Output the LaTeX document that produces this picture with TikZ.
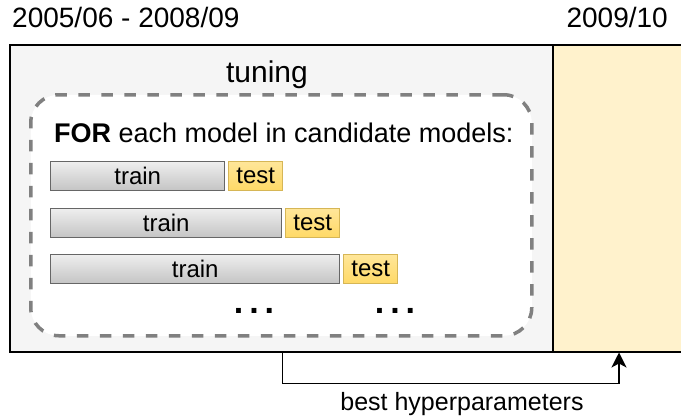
\documentclass[tikz,border=0pt]{standalone}
\usepackage{fontspec}
\setmainfont{Liberation Sans}
\usetikzlibrary{arrows.meta,shadings}
\definecolor{panelgray}{HTML}{F5F5F5}
\definecolor{evalyellow}{HTML}{FFF2CC}
\definecolor{loopgray}{HTML}{808080}
\definecolor{trainedge}{HTML}{666666}
\definecolor{traintop}{HTML}{EEEEEE}
\definecolor{trainbot}{HTML}{C4C4C4}
\definecolor{testtop}{HTML}{FFE699}
\definecolor{testbot}{HTML}{FFD966}
\definecolor{testedge}{HTML}{D6B656}
\tikzset{
  fsz/.style={font=\fontsize{#1}{#1}\selectfont},
  period/.style={draw=black, line width=1.5pt, inner sep=0pt, anchor=north west},
  loopbox/.style={draw=loopgray, fill=white, line width=3.5pt, dash pattern=on 11.5pt off 11.5pt,
    rounded corners=28pt, inner sep=0pt, anchor=north west},
  trainbox/.style={draw=trainedge, line width=1.4pt, top color=traintop, bottom color=trainbot,
    minimum height=29pt, inner sep=0pt, anchor=north west, fsz=24},
  testbox/.style={draw=testedge, line width=1.4pt, top color=testtop, bottom color=testbot,
    minimum height=29pt, minimum width=54pt, inner sep=0pt, anchor=north west, fsz=24},
  label/.style={anchor=base, inner sep=0pt},
  flow/.style={draw=black, line width=1.4pt, -{Stealth[length=15pt,width=15pt,inset=4pt]}}
}
\begin{document}
\begin{tikzpicture}[x=1pt,y=-1pt]
  \useasboundingbox (0,0) rectangle (681,418);

  % period labels
  \node[label, anchor=base west, fsz=28] (p1) at (12,27) {2005/06 - 2008/09};
  \node[label, anchor=base east, fsz=28] (p2) at (668,27) {2009/10};

  % tuning period and evaluation period
  \node[period, fill=evalyellow, minimum width=140pt, minimum height=307pt] (eval) at (552,44) {};
  \node[period, fill=panelgray, minimum width=543pt, minimum height=307pt] (tuning) at (9,44) {};
  \node[label, fsz=30] (tlabel) at (267,82) {tuning};

  % loop over candidate models
  \node[loopbox, minimum width=501pt, minimum height=241pt] (loop) at (29,93) {};
  \node[label, anchor=base west, fsz=27] (for) at (54,142) {\textbf{FOR} each model in candidate models:};

  \node[trainbox, minimum width=174pt] (tr1) at (50,161) {train};
  \node[testbox] (te1) at (228,161) {test};
  \node[trainbox, minimum width=231pt] (tr2) at (50,208) {train};
  \node[testbox] (te2) at (285,208) {test};
  \node[trainbox, minimum width=289pt] (tr3) at (50,254) {train};
  \node[testbox] (te3) at (343,254) {test};

  \node[label, fsz=34] (d1) at (254,313) {\textbf{.\kern6pt.\kern6pt.}};
  \node[label, fsz=34] (d2) at (395,313) {\textbf{.\kern6pt.\kern6pt.}};

  % hand-over of the best hyperparameters
  \coordinate (target) at ([xshift=67pt]eval.south west);
  \draw[flow] (tr2.east |- tuning.south) -- ++(0,31) -| (target);
  \node[label, fsz=25] (best) at (462,410) {best hyperparameters};
\end{tikzpicture}
\end{document}
